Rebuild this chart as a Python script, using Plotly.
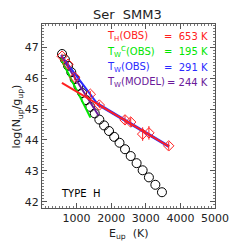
import plotly.graph_objects as go
import numpy as np

# Model (black circles): CO ladder E_up and log(N/g)
model_E = [580, 663, 752, 846, 945, 1050, 1160, 1276, 1397, 1524, 1657, 1794,
           1937, 2086, 2240, 2399, 2564, 2734, 2909, 3090, 3276, 3467]
model_logNg = [46.78, 46.60, 46.40, 46.19, 45.97, 45.75, 45.52, 45.29, 45.07, 44.86, 44.66, 44.47,
               44.29, 44.10, 43.91, 43.70, 43.48, 43.25, 43.02, 42.79, 42.55, 42.31]

# Observed (red diamonds)
obs_E = [580, 752, 945, 1397, 1657, 2399, 2564, 2909, 3090, 3662]
obs_logNg = [46.71, 46.45, 46.03, 45.48, 45.13, 44.65, 44.58, 44.19, 44.23, 43.81]
obs_err = [0.08, 0.08, 0.10, 0.10, 0.10, 0.15, 0.15, 0.22, 0.22, 0.13]

# Fits: temperature, intercept, E range
T_hot, b_hot, E_hot = 653, 46.23, [575, 3670]
T_wc, b_wc, E_wc = 195, 47.84, [540, 1400]
T_w, b_w, E_w = 291, 47.56, [548, 1650]
T_wm, b_wm, E_wm = 244, 47.70, [567, 1635]

LOGE = 0.4343


def fit_line(T, b, rng):
    x = np.array(rng, dtype=float)
    return x, b - LOGE / T * x


fig = go.Figure()
FONT = "DejaVu Sans"

fig.add_trace(go.Scatter(x=model_E, y=model_logNg, mode="markers",
                         marker=dict(symbol="circle-open", size=9, color="black",
                                     line=dict(width=1, color="black")),
                         showlegend=False))

# blue segment underlying the hot fit
xh, yh = fit_line(T_hot, b_hot, [1600, E_hot[1]])
fig.add_trace(go.Scatter(x=xh, y=yh, mode="lines", line=dict(color="#2a2aff", width=3),
                         showlegend=False))

for (T, b, rng, col) in [(T_wc, b_wc, E_wc, "#00e600"), (T_w, b_w, E_w, "#2a2aff"),
                         (T_wm, b_wm, E_wm, "#6a1a9a"), (T_hot, b_hot, E_hot, "#ff2020")]:
    x, y = fit_line(T, b, rng)
    fig.add_trace(go.Scatter(x=x, y=y, mode="lines", line=dict(color=col, width=2),
                             showlegend=False))

fig.add_trace(go.Scatter(x=obs_E, y=obs_logNg, mode="markers",
                         marker=dict(symbol="diamond-open", size=8, color="#ff2020",
                                     line=dict(width=1, color="#ff2020")),
                         error_y=dict(type="data", array=obs_err, color="#ff2020",
                                      thickness=1, width=0),
                         showlegend=False))

axis_common = dict(showline=True, linecolor="#555", linewidth=1, mirror="allticks",
                   ticks="inside", tickcolor="#555", ticklen=5, showgrid=False,
                   zeroline=False, tickfont=dict(family=FONT, size=11, color="#222"))

fig.update_xaxes(range=[0, 5000], tickvals=[1000, 2000, 3000, 4000, 5000],
                 minor=dict(ticks="inside", dtick=100, ticklen=2, tickcolor="#777"),
                 **axis_common)
fig.update_yaxes(range=[41.8, 47.75], tickvals=[42, 43, 44, 45, 46, 47],
                 minor=dict(ticks="inside", dtick=0.1, ticklen=2, tickcolor="#777"),
                 **axis_common)

ann = []
ann.append(dict(text="Ser  SMM3", x=0.497, y=1.054, xref="paper", yref="paper",
                showarrow=False, font=dict(family=FONT, size=13, color="#222"),
                xanchor="center", yanchor="middle"))
ann.append(dict(text="E<sub>up</sub>  (K)", x=0.5, y=-0.143, xref="paper", yref="paper",
                showarrow=False, font=dict(family=FONT, size=11, color="#222"),
                xanchor="center", yanchor="middle"))
ann.append(dict(text="log(N<sub>up</sub>/g<sub>up</sub>)", x=-0.142, y=0.5, xref="paper",
                yref="paper", textangle=-90, showarrow=False,
                font=dict(family=FONT, size=11, color="#222"),
                xanchor="center", yanchor="middle"))
ann.append(dict(text="TYPE  H", x=0.098, y=0.0815, xref="paper", yref="paper",
                showarrow=False, font=dict(family=FONT, size=10, color="black"),
                xanchor="left", yanchor="middle"))

rows = [("T<sub>H</sub>(OBS)", f"=  {T_hot} K", "#ff2020", 0.931),
        ("T<sub>W</sub><sup>C</sup>(OBS)", f"=  {T_wc} K", "#00e600", 0.848),
        ("T<sub>W</sub>(OBS)", f"=  {T_w} K", "#2a2aff", 0.763),
        ("T<sub>W</sub>(MODEL)", f"= {T_wm} K", "#6a1a9a", 0.681)]
for lab, val, col, yy in rows:
    ann.append(dict(text=lab, x=0.366, y=yy, xref="paper", yref="paper", showarrow=False,
                    font=dict(family=FONT, size=10, color=col), xanchor="left",
                    yanchor="middle"))
    ann.append(dict(text=val, x=0.973, y=yy, xref="paper", yref="paper", showarrow=False,
                    font=dict(family=FONT, size=10, color=col), xanchor="right",
                    yanchor="middle"))

fig.update_layout(width=233, height=233, autosize=False,
                  margin=dict(l=34, r=16.5, t=16, b=33),
                  paper_bgcolor="white", plot_bgcolor="white",
                  annotations=ann)

fig.write_html("out.html")
